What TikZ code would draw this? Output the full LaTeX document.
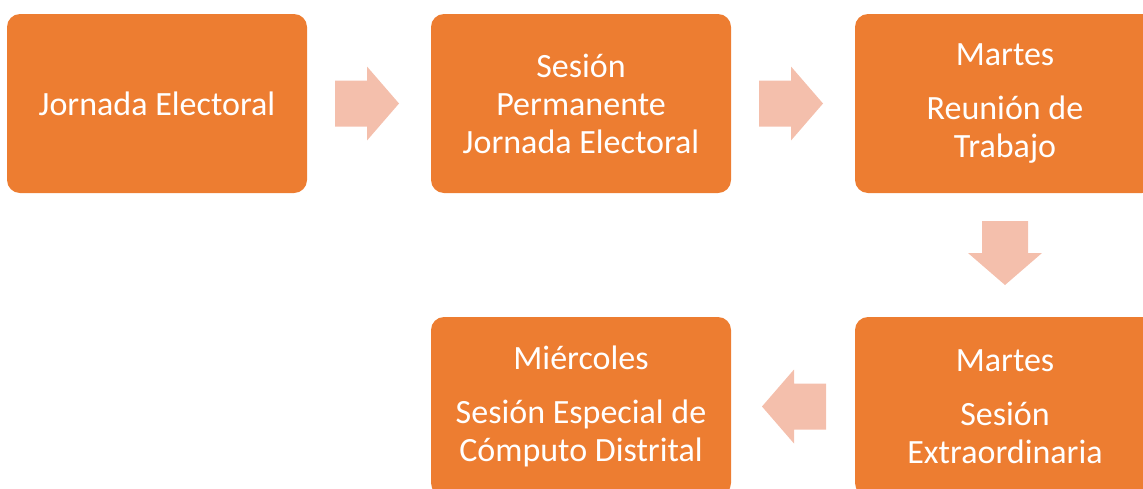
\documentclass[tikz,border=0pt]{standalone}
\usepackage{fontspec}
\setmainfont{Carlito}
\usetikzlibrary{calc}
\definecolor{boxorange}{HTML}{ED7D31}
\definecolor{arrowpink}{HTML}{F4BFAC}
\tikzset{
  stepbox/.style={fill=boxorange, rounded corners=13pt, minimum width=300pt, minimum height=179pt,
    inner sep=0pt, align=center, text=white, font=\fontsize{34}{38}\selectfont},
  flowarrow/.style={fill=arrowpink}
}
\newcommand{\blockarrow}[2]{%
  \begin{scope}[shift={(#1)}, rotate=#2]
    \fill[flowarrow] (-32pt,-23pt) -- (0pt,-23pt) -- (0pt,-37pt) -- (32pt,0pt) -- (0pt,37pt) -- (0pt,23pt) -- (-32pt,23pt) -- cycle;
  \end{scope}}
\begin{document}
\begin{tikzpicture}[x=1pt,y=1pt]
\useasboundingbox (0,0) rectangle (1143,-488);
\clip (0,0) rectangle (1143,-488);
\node[stepbox] (b1) at (157,-103.5) {Jornada Electoral};
\node[stepbox] (b2) at (581,-103.5) {Sesión\\Permanente\\Jornada Electoral};
\node[stepbox] (b3) at (1005,-103.5) {Martes\\[16pt]Reunión de\\Trabajo};
\node[stepbox] (b4) at (1005,-406.5) {Martes\\[16pt]Sesión\\Extraordinaria};
\node[stepbox] (b5) at (581,-406.5) {Miércoles\\[16pt]Sesión Especial de\\Cómputo Distrital};
\coordinate (m1) at ($(b1.east)!0.5!(b2.west)+(-2pt,0)$);
\coordinate (m2) at ($(b2.east)!0.5!(b3.west)+(-2pt,0)$);
\coordinate (m3) at ($(b3.south)!0.5!(b4.north)+(0,2pt)$);
\coordinate (m4) at ($(b4.west)!0.5!(b5.east)+(1pt,0)$);
\blockarrow{m1}{0}
\blockarrow{m2}{0}
\blockarrow{m3}{-90}
\blockarrow{m4}{180}
\end{tikzpicture}
\end{document}
